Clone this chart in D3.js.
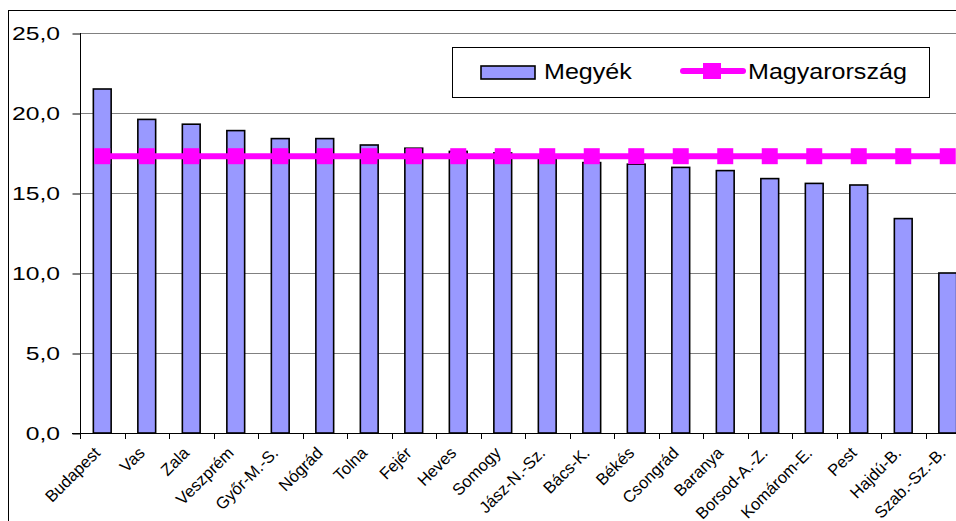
<!DOCTYPE html>
<html>
<head>
<meta charset="utf-8">
<script src="https://cdn.jsdelivr.net/npm/d3@7"></script>
<style>
  body { margin: 0; background: #fff; }
  svg { display: block; }
</style>
</head>
<body>
<div id="chart"></div>
<script>
var megyek = ["Budapest", "Vas", "Zala", "Veszprém", "Győr-M.-S.", "Nógrád", "Tolna", "Fejér",
  "Heves", "Somogy", "Jász-N.-Sz.", "Bács-K.", "Békés", "Csongrád", "Baranya", "Borsod-A.-Z.",
  "Komárom-E.", "Pest", "Hajdú-B.", "Szab.-Sz.-B."];
var megyeErtekek = [21.5, 19.6, 19.3, 18.9, 18.4, 18.4, 18.0, 17.8, 17.6, 17.5, 17.3, 16.9,
  16.8, 16.6, 16.4, 15.9, 15.6, 15.5, 13.4, 10.0];
var orszagosErtek = 17.3;
var yTicks = [0, 5, 10, 15, 20, 25];
var seriesNames = ["Megyék", "Magyarország"];

var width = 956, height = 521;
var margin = {top: 33, left: 80};
var plotRight = 970, plotBottom = 433;

var svg = d3.select("#chart").append("svg")
  .attr("width", width)
  .attr("height", height)
  .style("font-family", "'Liberation Sans', Arial, sans-serif");

// outer frame (runs past the picture on right and bottom)
svg.append("rect")
  .attr("x", 8.5).attr("y", 10.5)
  .attr("width", 1000).attr("height", 600)
  .attr("fill", "#fff").attr("stroke", "#000").attr("stroke-width", 1);

var x = d3.scaleBand().domain(megyek).range([margin.left, plotRight]).padding(0);
var y = d3.scaleLinear().domain([0, 25]).range([plotBottom, margin.top]);

var hu = d3.formatLocale({decimal: ",", thousands: " ", grouping: [3], currency: ["", " Ft"]});
var fmt = hu.format(".1f");

// gridlines
svg.append("g")
  .selectAll("line")
  .data(yTicks.filter(function (d) { return d > 0; }))
  .enter().append("line")
  .attr("x1", margin.left).attr("x2", plotRight)
  .attr("y1", function (d) { return Math.round(y(d)) + 0.5; })
  .attr("y2", function (d) { return Math.round(y(d)) + 0.5; })
  .attr("stroke", "#808080").attr("stroke-width", 1);

// y axis
var yAxis = svg.append("g")
  .attr("transform", "translate(" + (margin.left + 0.5) + ",0.5)")
  .call(d3.axisLeft(y).tickValues(yTicks).tickSize(8).tickFormat(""));
yAxis.selectAll("path, line").attr("stroke", "#000");
yAxis.select(".domain").attr("d", "M0," + (y(25) - 0.5) + "V" + (y(0) - 0.5));

svg.append("g")
  .selectAll("g")
  .data(yTicks)
  .enter().append("g")
  .attr("transform", function (d) { return "translate(60," + (y(d) + 7) + ") scale(1.3,1)"; })
  .append("text")
  .attr("text-anchor", "end")
  .attr("font-size", "19px")
  .attr("fill", "#000")
  .text(function (d) { return fmt(d); });

// bars
var barW = x.bandwidth() * 0.4;
svg.append("g")
  .selectAll("rect")
  .data(megyeErtekek)
  .enter().append("rect")
  .attr("x", function (d, i) { return x(megyek[i]) + x.bandwidth() * 0.3; })
  .attr("y", function (d) { return y(d); })
  .attr("width", barW)
  .attr("height", function (d) { return y(0) - y(d); })
  .attr("fill", "#9999ff")
  .attr("stroke", "#000")
  .attr("stroke-width", 1.6);

// x axis line and ticks at category boundaries
svg.append("line")
  .attr("x1", margin.left - 8).attr("x2", plotRight)
  .attr("y1", plotBottom + 0.5).attr("y2", plotBottom + 0.5)
  .attr("stroke", "#000");
svg.append("g")
  .selectAll("line")
  .data(megyek)
  .enter().append("line")
  .attr("x1", function (d) { return Math.round(x(d)) + 0.5; })
  .attr("x2", function (d) { return Math.round(x(d)) + 0.5; })
  .attr("y1", plotBottom).attr("y2", plotBottom + 6)
  .attr("stroke", "#000");

// x labels
svg.append("g")
  .selectAll("text")
  .data(megyek)
  .enter().append("text")
  .attr("transform", function (d) {
    return "translate(" + (x(d) + x.bandwidth() / 2 - 1) + ",454) rotate(-45)";
  })
  .attr("text-anchor", "end")
  .attr("font-size", "16.5px")
  .attr("fill", "#000")
  .text(function (d) { return d; });

// national line
var line = d3.line()
  .x(function (d) { return x(d) + x.bandwidth() / 2; })
  .y(function () { return y(orszagosErtek); });

svg.append("path")
  .datum(megyek)
  .attr("fill", "none")
  .attr("stroke", "#ff00ff")
  .attr("stroke-width", 6)
  .attr("d", line);

svg.append("g")
  .selectAll("rect")
  .data(megyek)
  .enter().append("rect")
  .attr("x", function (d) { return x(d) + x.bandwidth() / 2 - 8; })
  .attr("y", y(orszagosErtek) - 8)
  .attr("width", 16).attr("height", 16)
  .attr("fill", "#ff00ff");

// legend
var legend = svg.append("g");
legend.append("rect")
  .attr("x", 452.5).attr("y", 47.5)
  .attr("width", 477).attr("height", 50)
  .attr("fill", "#fff").attr("stroke", "#000");
legend.append("rect")
  .attr("x", 481).attr("y", 66)
  .attr("width", 54).attr("height", 13)
  .attr("fill", "#9999ff").attr("stroke", "#000").attr("stroke-width", 1.6);
legend.append("g")
  .attr("transform", "translate(544,79) scale(1.14,1)")
  .append("text")
  .attr("font-size", "22px").attr("fill", "#000")
  .text(seriesNames[0]);
legend.append("line")
  .attr("x1", 683).attr("x2", 743)
  .attr("y1", 71).attr("y2", 71)
  .attr("stroke", "#ff00ff").attr("stroke-width", 6)
  .attr("stroke-linecap", "round");
legend.append("rect")
  .attr("x", 703).attr("y", 63)
  .attr("width", 18).attr("height", 16)
  .attr("fill", "#ff00ff");
legend.append("g")
  .attr("transform", "translate(748,79) scale(1.14,1)")
  .append("text")
  .attr("font-size", "22px").attr("fill", "#000")
  .text(seriesNames[1]);
</script>
</body>
</html>
